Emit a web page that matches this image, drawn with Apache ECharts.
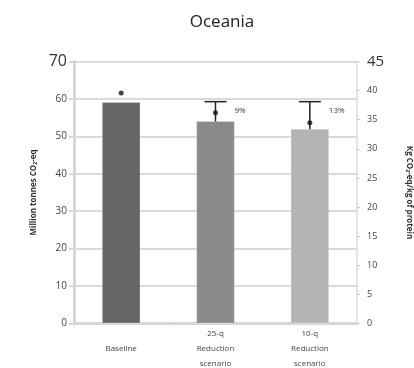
<!DOCTYPE html>
<html>
<head>
<meta charset="utf-8">
<script src="https://cdn.jsdelivr.net/npm/echarts@6/dist/echarts.min.js"></script>
<style>
  html, body { margin: 0; padding: 0; background: #fff; }
  #chart { width: 414px; height: 368px; }
</style>
</head>
<body>
<div id="chart"></div>
<script>
// categories and values
const categories = ['Baseline', '25-q\nReduction\nscenario', '10-q\nReduction\nscenario'];
const emissions = [59.2, 54.1, 52.0];          // Million tonnes CO2-eq (left)
const intensity = [39.6, 36.2, 34.5];          // Kg CO2-eq/kg of protein (right)
const errLow = [null, 34.3, 30.9];
const errHigh = [null, 38.1, 38.1];
const pctLabels = ['', '9%', '13%'];
const barColors = ['#666666', '#8a8a8a', '#b4b4b4'];

const chart = echarts.init(document.getElementById('chart'));

const errData = [];
categories.forEach((c, i) => {
  if (errHigh[i] != null) errData.push([i, errLow[i], errHigh[i], pctLabels[i]]);
});

chart.setOption({
  animation: false,
  textStyle: { fontFamily: 'Open Sans, DejaVu Sans, sans-serif' },
  title: {
    text: 'Oceania',
    left: 217, top: 9, textAlign: 'center',
    textStyle: { fontSize: 17, fontWeight: 'normal', color: '#222' }
  },
  grid: { left: 74, right: 57, top: 61.5, bottom: 44.5, containLabel: false, outerBoundsMode: 'none' },
  xAxis: {
    type: 'category',
    data: categories,
    axisLine: { lineStyle: { color: '#d6d6d6', width: 3 } },
    axisTick: { show: true, length: 3, lineStyle: { color: '#e2e2e2' } },
    axisLabel: {
      color: '#444', fontSize: 8, lineHeight: 15,
      verticalAlign: 'middle', margin: 25
    }
  },
  yAxis: [
    {
      type: 'value', min: 0, max: 70, interval: 10,
      name: 'Million tonnes CO₂-eq', nameLocation: 'middle', nameGap: 32,
      nameTextStyle: { fontSize: 8, fontWeight: 'bold', color: '#333' },
      axisLine: { show: true, lineStyle: { color: '#d6d6d6', width: 3 } },
      axisTick: { show: true, length: 5, lineStyle: { color: '#d6d6d6', width: 2 } },
      splitLine: { lineStyle: { color: '#dadada', width: 2 } },
      axisLabel: {
        color: '#444', fontSize: 10, margin: 7,
        formatter: v => v === 70 ? '{big|70}' : String(v),
        rich: { big: { fontSize: 16, color: '#333' } }
      }
    },
    {
      type: 'value', min: 0, max: 45, interval: 5,
      name: 'Kg CO₂-eq/kg of protein', nameLocation: 'middle', nameGap: 48,
      nameRotate: -90,
      nameTextStyle: { fontSize: 8, fontWeight: 'bold', color: '#333' },
      axisLine: { show: true, lineStyle: { color: '#dddddd', width: 1.5 } },
      axisTick: { show: true, length: 3, lineStyle: { color: '#cccccc' } },
      splitLine: { show: false },
      axisLabel: {
        color: '#444', fontSize: 9, margin: 10,
        formatter: v => v === 45 ? '{big|45}' : String(v),
        rich: { big: { fontSize: 15, color: '#333' } }
      }
    }
  ],
  series: [
    {
      type: 'custom',
      yAxisIndex: 1,
      z: 1,
      data: errData,
      encode: { x: 0, y: [1, 2] },
      renderItem: (params, api) => {
        const lo = api.coord([api.value(0), api.value(1)]);
        const hi = api.coord([api.value(0), api.value(2)]);
        const x = hi[0];
        return {
          type: 'group',
          children: [
            { type: 'line', shape: { x1: x, y1: lo[1], x2: x, y2: hi[1] }, style: { stroke: '#222', lineWidth: 1.5 } },
            { type: 'line', shape: { x1: x - 11, y1: hi[1], x2: x + 11, y2: hi[1] }, style: { stroke: '#222', lineWidth: 1.5 } },
            { type: 'text', x: x + 19, y: hi[1] + 9,
              style: { text: api.value(3), fill: '#333', fontSize: 8, verticalAlign: 'middle',
                       fontFamily: 'Open Sans, DejaVu Sans, sans-serif' } }
          ]
        };
      }
    },
    {
      type: 'bar',
      yAxisIndex: 0,
      z: 2,
      barWidth: '41%',
      data: emissions.map((v, i) => ({ value: v, itemStyle: { color: barColors[i] } })),
      itemStyle: { borderColor: 'rgba(255,255,255,0.25)', borderWidth: 1 }
    },
    {
      type: 'scatter',
      yAxisIndex: 1,
      z: 3,
      symbol: 'circle',
      symbolSize: 5,
      itemStyle: { color: '#111' },
      data: intensity
    }
  ]
});
</script>
</body>
</html>
